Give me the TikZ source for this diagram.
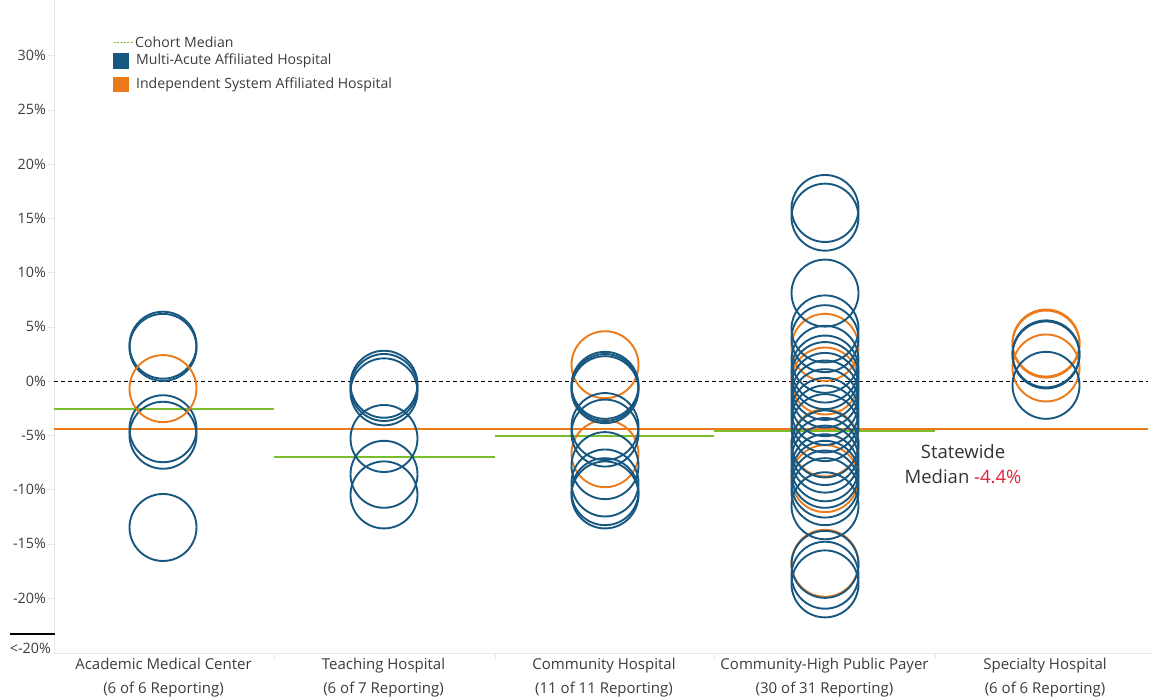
\documentclass[tikz,border=0pt]{standalone}
\usepackage{fontspec}
\setmainfont{Open Sans}
\usetikzlibrary{positioning}
\definecolor{multiblue}{RGB}{24,88,128}
\definecolor{indorange}{RGB}{236,122,24}
\definecolor{cohortgreen}{RGB}{122,190,44}
\definecolor{medianred}{RGB}{226,36,58}
\definecolor{labelgray}{RGB}{60,60,60}
\definecolor{axisgray}{RGB}{232,232,232}

\begin{document}
\begin{tikzpicture}[x=1pt, y=10.85pt, every node/.style={text=labelgray, inner sep=0pt},
  multi/.style={draw=multiblue, line width=1.9pt},
  indep/.style={draw=indorange, line width=1.9pt},
  cohort/.style={draw=cohortgreen, line width=2pt},
  ticklabel/.style={anchor=east, font=\fontsize{14.3}{15}\selectfont},
  catlabel/.style={align=center, font=\fontsize{15}{24}\selectfont},
  legendtext/.style={anchor=west, font=\fontsize{14.1}{15}\selectfont}]
\useasboundingbox (0,-29.217) rectangle (1153,35.115);
% Axes
\draw[axisgray] (54,35.115) -- (54,-25.07) -- (1153,-25.07);
\foreach \c in {274,495,714,935} \draw[axisgray] (\c,-25.07) -- (\c,-25.6);
\foreach \v in {30,25,...,-20} {
  \draw[axisgray] (48,\v) -- (54,\v);
  \node[ticklabel] (tick\v) at (46,\v) {\v\%};
}
\draw[black, line width=1.2pt] (10,-23.32) -- (55,-23.32);
\node[ticklabel] (tickbelow) at (51,-24.6) {<-20\%};
% Zero line and statewide median
\draw[black, dash pattern=on 4pt off 3pt, line width=0.9pt] (54,0) -- (1148,0);
\draw[indorange, line width=2pt] (54,-4.42) -- (1148,-4.42);
% Cohort medians
\draw[cohort] (54,-2.6) -- (274,-2.6);
\draw[cohort] (274,-7.0) -- (495,-7.0);
\draw[cohort] (495,-5.1) -- (714,-5.1);
\draw[cohort] (714,-4.62) -- (935,-4.62);
% Academic Medical Center
\foreach \v in {3.3,3.1,-4.4,-5.0,-13.5} \draw[multi] (163,\v) circle (33.5pt);
\foreach \v in {-0.7} \draw[indep] (163,\v) circle (33.5pt);
% Teaching Hospital
\foreach \v in {-0.3,-0.6,-1.0,-5.3,-8.6,-10.5} \draw[multi] (384,\v) circle (33.5pt);
% Community Hospital
\foreach \v in {1.5,-6.7} \draw[indep] (605,\v) circle (33.5pt);
\foreach \v in {-0.4,-0.6,-0.8,-4.2,-4.8,-7.8,-9.4,-10.2,-10.5} \draw[multi] (605,\v) circle (33.5pt);
% Community-High Public Payer
\foreach \v in {3.1,0.0,-5.7,-9.0,-16.8} \draw[indep] (825,\v) circle (33.5pt);
\foreach \v in {15.9,15.1,8.1,4.8,3.9,2.0,1.1,0.5,-0.5,-1.2,-2.0,-2.8,-3.5,-4.3,-5.8,-6.5,-7.2,-8.0,-8.6,-9.5,-10.2,-11.5,-16.9,-17.9,-18.7}
  \draw[multi] (825,\v) circle (33.5pt);
% Specialty Hospital
\foreach \v in {3.5,3.4,1.2} \draw[indep] (1046,\v) circle (33.5pt);
\foreach \v in {2.5,2.4,-0.4} \draw[multi] (1046,\v) circle (33.5pt);
% Statewide label
\node[align=center, text=black!80, font=\fontsize{18.5}{25}\selectfont] (statewide) at (963,-7.7)
  {Statewide\\Median \textcolor{medianred}{-4.4\%}};
% Categories
\node[catlabel] (amc) at (163.5,-27.37) {Academic Medical Center\\(6 of 6 Reporting)};
\node[catlabel] (teach) at (383.5,-27.37) {Teaching Hospital\\(6 of 7 Reporting)};
\node[catlabel] (comm) at (604,-27.37) {Community Hospital\\(11 of 11 Reporting)};
\node[catlabel] (chpp) at (824.5,-27.37) {Community-High Public Payer\\(30 of 31 Reporting)};
\node[catlabel] (spec) at (1045,-27.37) {Specialty Hospital\\(6 of 6 Reporting)};
% Legend
\coordinate (cohortkey) at (114,31.18);
\draw[cohortgreen, dash pattern=on 2pt off 1.3pt, line width=0.9pt] (cohortkey) -- ++(19,0) coordinate (cohortend);
\node[legendtext, right=2pt of cohortend] (cohorttext) {Cohort Median};
\node[fill=multiblue, minimum size=15.5pt] (multikey) at (121,29.49) {};
\node[legendtext, right=7pt of multikey] (multitext) {Multi-Acute Affiliated Hospital};
\node[fill=indorange, minimum size=15.5pt] (indepkey) at (121,27.33) {};
\node[legendtext, right=7pt of indepkey] (indeptext) {Independent System Affiliated Hospital};
\end{tikzpicture}
\end{document}
